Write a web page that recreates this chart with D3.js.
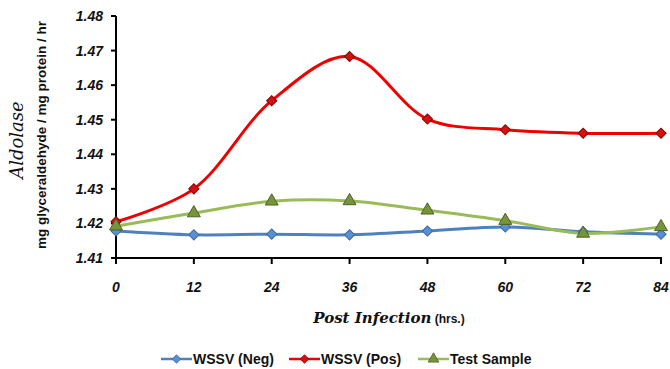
<!DOCTYPE html>
<html>
<head>
<meta charset="utf-8">
<script src="https://cdn.jsdelivr.net/npm/d3@7"></script>
<style>
  body { margin: 0; background: #fff; }
</style>
</head>
<body>
<script>
// données
const hours = [0, 12, 24, 36, 48, 60, 72, 84];
const yTicks = [1.41, 1.42, 1.43, 1.44, 1.45, 1.46, 1.47, 1.48];
const neg = [1.4178, 1.4167, 1.4169, 1.4167, 1.4178, 1.4190, 1.4176, 1.4169];
const pos = [1.4205, 1.4300, 1.4555, 1.4683, 1.4502, 1.4471, 1.4461, 1.4461];
const test = [1.4192, 1.4230, 1.4264, 1.4265, 1.4238, 1.4208, 1.4171, 1.4190];
const seriesNames = ["WSSV (Neg)", "WSSV (Pos)", "Test Sample"];

const width = 670, height = 369;

const svg = d3.select("body").append("svg")
    .attr("width", width)
    .attr("height", height);

const x = d3.scaleLinear().domain([0, 84]).range([116, 661]);
const y = d3.scaleLinear().domain([1.41, 1.48]).range([258, 16]);

const series = [
    { name: seriesNames[0], values: neg, line: "#4f81bd", fill: "#5b8fd3", stroke: "#3d6aa3", shape: "diamond" },
    { name: seriesNames[1], values: pos, line: "#ee0000", fill: "#d41010", stroke: "#8a0000", shape: "diamond" },
    { name: seriesNames[2], values: test, line: "#9bbb59", fill: "#77933c", stroke: "#4f6228", shape: "triangle" }
];

// diamant = carré tourné de 45°
function marker(shape, size) {
    return shape === "triangle"
        ? { d: d3.symbol().type(d3.symbolTriangle).size(size * 1.4)(), rot: 0 }
        : { d: d3.symbol().type(d3.symbolSquare).size(size)(), rot: 45 };
}

// axes
const tickFont = "'Liberation Sans', Arial, sans-serif";

svg.append("line")
    .attr("x1", x(0)).attr("x2", x(0))
    .attr("y1", y(1.48)).attr("y2", y(1.41))
    .attr("stroke", "#000").attr("stroke-width", 2);
svg.append("line")
    .attr("x1", x(0) - 1).attr("x2", x(84) + 1)
    .attr("y1", y(1.41)).attr("y2", y(1.41))
    .attr("stroke", "#000").attr("stroke-width", 2);

svg.selectAll(".ytick").data(yTicks).enter().append("line")
    .attr("x1", x(0) - 5).attr("x2", x(0))
    .attr("y1", d => y(d)).attr("y2", d => y(d))
    .attr("stroke", "#000").attr("stroke-width", 2);

svg.selectAll(".ylab").data(yTicks).enter().append("text")
    .attr("x", 103)
    .attr("y", d => y(d) + 5)
    .attr("text-anchor", "end")
    .style("font-family", tickFont)
    .style("font-weight", "bold")
    .style("font-style", "italic")
    .style("font-size", "14px")
    .style("fill", "#111")
    .text(d => d.toFixed(2));

svg.selectAll(".xtick").data(hours).enter().append("line")
    .attr("x1", d => x(d)).attr("x2", d => x(d))
    .attr("y1", y(1.41)).attr("y2", y(1.41) + 6)
    .attr("stroke", "#000").attr("stroke-width", 2);

svg.selectAll(".xlab").data(hours).enter().append("text")
    .attr("x", d => x(d))
    .attr("y", 292)
    .attr("text-anchor", "middle")
    .style("font-family", tickFont)
    .style("font-weight", "bold")
    .style("font-style", "italic")
    .style("font-size", "14px")
    .style("fill", "#111")
    .text(d => d);

// titres
const xt = svg.append("text")
    .attr("x", 389)
    .attr("y", 323)
    .attr("text-anchor", "middle")
    .style("fill", "#111");
xt.append("tspan")
    .style("font-family", "'DejaVu Serif', serif")
    .style("font-style", "italic")
    .style("font-weight", "bold")
    .style("font-size", "15px")
    .text("Post Infection");
xt.append("tspan")
    .style("font-family", tickFont)
    .style("font-weight", "bold")
    .style("font-size", "12px")
    .text(" (hrs.)");

svg.append("text")
    .attr("transform", "translate(23,140) rotate(-90)")
    .attr("text-anchor", "middle")
    .style("font-family", "'DejaVu Serif', serif")
    .style("font-style", "italic")
    .style("font-size", "18px")
    .style("fill", "#111")
    .text("Aldolase");

svg.append("text")
    .attr("transform", "translate(46,135) rotate(-90)")
    .attr("text-anchor", "middle")
    .style("font-family", tickFont)
    .style("font-weight", "bold")
    .style("font-size", "13.5px")
    .style("fill", "#111")
    .text("mg glyceraldehyde / mg protein / hr");

// courbes
const line = d3.line()
    .x((d, i) => x(hours[i]))
    .y(d => y(d))
    .curve(d3.curveCatmullRom.alpha(0.5));

series.forEach(s => {
    svg.append("path")
        .datum(s.values)
        .attr("d", line)
        .attr("fill", "none")
        .attr("stroke", s.line)
        .attr("stroke-width", 3);
});

series.forEach(s => {
    const m = marker(s.shape, 52);
    svg.selectAll(null).data(s.values).enter().append("path")
        .attr("d", m.d)
        .attr("transform", (d, i) => "translate(" + x(hours[i]) + "," + y(d) + ") rotate(" + m.rot + ")")
        .attr("fill", s.fill)
        .attr("stroke", s.stroke)
        .attr("stroke-width", 1);
});

// légende
const legendX = [161, 289, 418];
const legend = svg.selectAll(".legend").data(series).enter().append("g")
    .attr("transform", (d, i) => "translate(" + legendX[i] + ",359)");

legend.append("line")
    .attr("x1", 0).attr("x2", 31)
    .attr("stroke", d => d.line)
    .attr("stroke-width", 2.5);

legend.append("path")
    .attr("d", d => marker(d.shape, 36).d)
    .attr("transform", d => "translate(15.5,0) rotate(" + marker(d.shape, 36).rot + ")")
    .attr("fill", d => d.fill)
    .attr("stroke", d => d.stroke)
    .attr("stroke-width", 0.8);

legend.append("text")
    .attr("x", 32)
    .attr("y", 5)
    .style("font-family", tickFont)
    .style("font-weight", "bold")
    .style("font-size", "14px")
    .style("fill", "#111")
    .text(d => d.name);
</script>
</body>
</html>
